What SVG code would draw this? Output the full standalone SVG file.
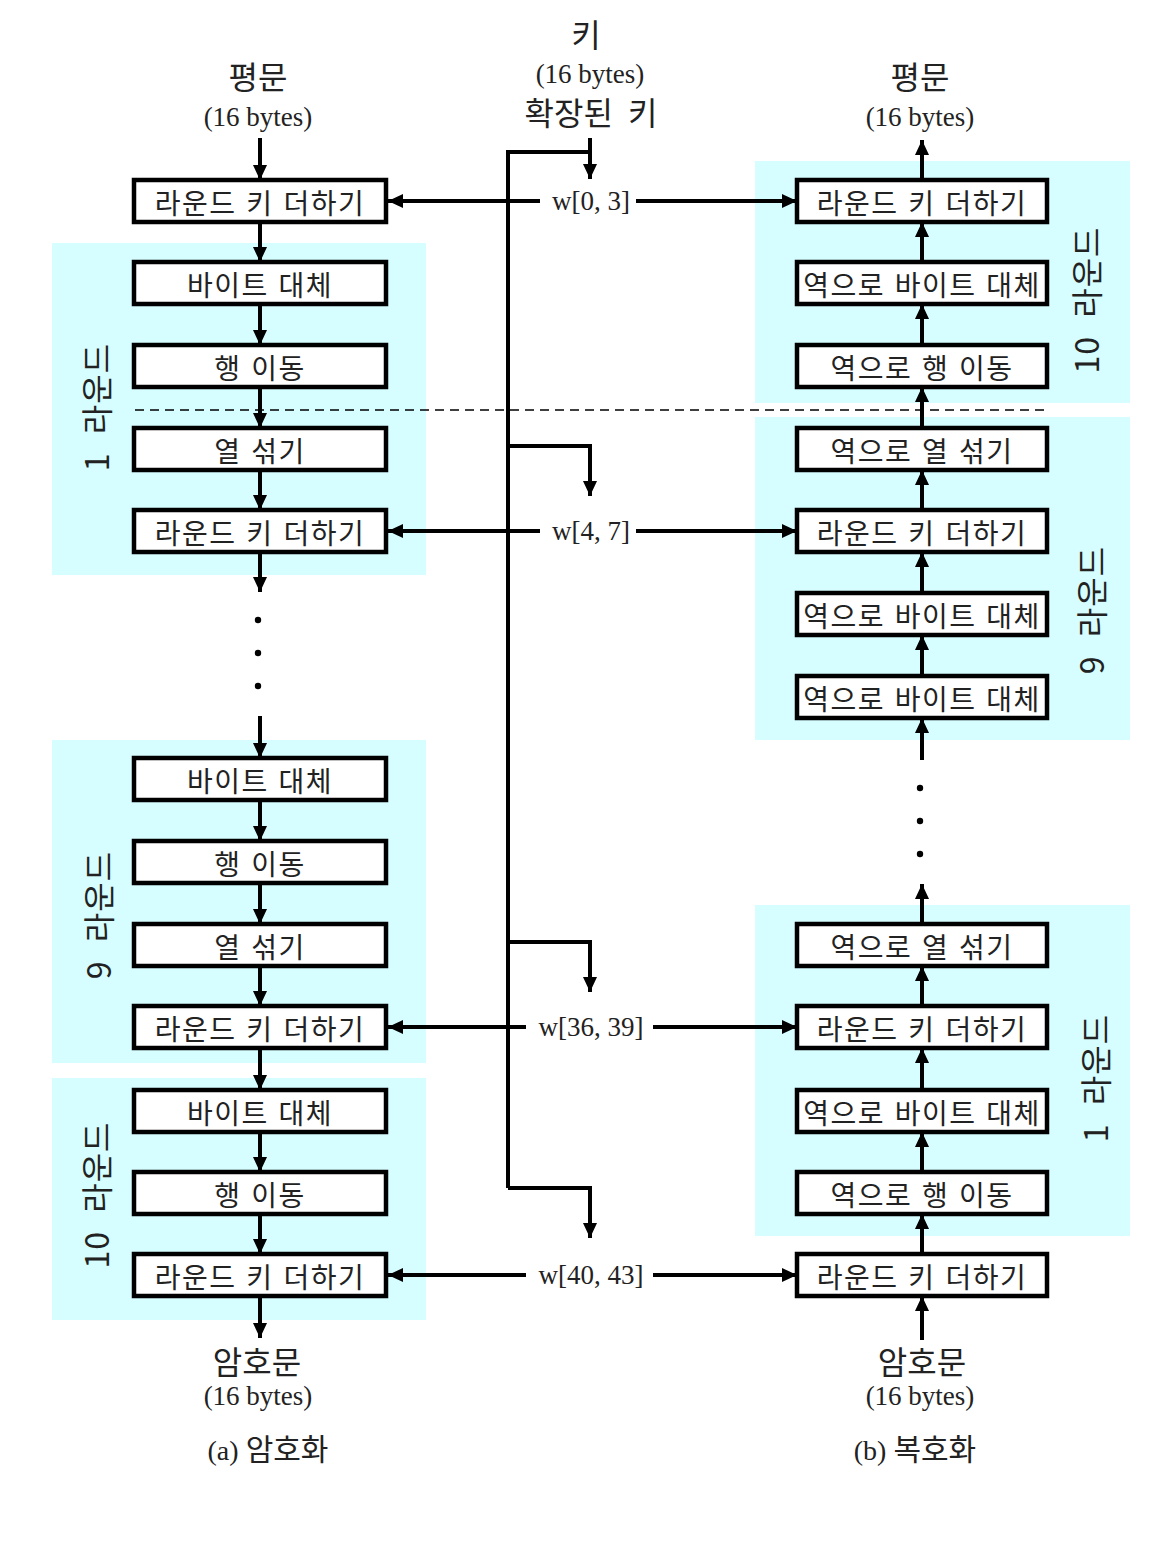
<svg xmlns="http://www.w3.org/2000/svg" width="1162" height="1546" viewBox="0 0 1162 1546">
<style>
.bg{fill:#d6fdff}
.box{fill:#fff;stroke:#000;stroke-width:4.5}
.bt{font-family:"Noto Sans CJK KR","Noto Sans",sans-serif;font-size:28px;fill:#222;text-anchor:middle;letter-spacing:1.5px;word-spacing:2px;dominant-baseline:central}
.ln{stroke:#000;stroke-width:4;fill:none}
.ar{stroke:#000;stroke-width:4;fill:none;marker-end:url(#ah)}
.kr{font-family:"Noto Sans CJK KR","Noto Sans",sans-serif;font-size:32px;fill:#222;text-anchor:middle;word-spacing:8px}
.tm{font-family:"Liberation Serif",serif;font-size:27px;fill:#222;text-anchor:middle}
.rl{font-family:"Noto Sans CJK KR","Noto Sans",sans-serif;font-size:32px;fill:#222;text-anchor:middle;letter-spacing:1px;word-spacing:10px}
.dash{stroke:#000;stroke-width:1.5;stroke-dasharray:9 6;fill:none}
</style>
<defs>
<marker id="ah" markerUnits="userSpaceOnUse" markerWidth="16" markerHeight="16" refX="15" refY="8" orient="auto">
<path d="M0,1 L15,8 L0,15 z" fill="#000"/>
</marker>
</defs>
<rect width="1162" height="1546" fill="#fff"/>
<g id="rounds">
<rect class="bg" x="52" y="243" width="374" height="332"/>
<rect class="bg" x="52" y="740" width="374" height="323"/>
<rect class="bg" x="52" y="1078" width="374" height="242"/>
<rect class="bg" x="755" y="161" width="375" height="242"/>
<rect class="bg" x="755" y="417" width="375" height="323"/>
<rect class="bg" x="755" y="905" width="375" height="331"/>
<text class="rl" transform="translate(109,407) rotate(-90)">1 라운드</text>
<text class="rl" transform="translate(111,915) rotate(-90)">9 라운드</text>
<text class="rl" transform="translate(109,1195) rotate(-90)">10 라운드</text>
<text class="rl" transform="translate(1099,300) rotate(-90)">10 라운드</text>
<text class="rl" transform="translate(1104,610) rotate(-90)">9 라운드</text>
<text class="rl" transform="translate(1108,1078) rotate(-90)">1 라운드</text>
</g>
<line class="dash" x1="135" y1="410" x2="1046" y2="410"/>
<g id="labels">
<text class="kr" x="258" y="89">평문</text>
<text class="tm" x="258" y="126">(16 bytes)</text>
<text class="kr" x="586" y="47">키</text>
<text class="tm" x="590" y="83">(16 bytes)</text>
<text class="kr" x="591" y="125">확장된 키</text>
<text class="kr" x="920" y="89">평문</text>
<text class="tm" x="920" y="126">(16 bytes)</text>
<text class="kr" x="257" y="1374" font-size="34">암호문</text>
<text class="tm" x="258" y="1405">(16 bytes)</text>
<text class="kr" x="922" y="1374" font-size="34">암호문</text>
<text class="tm" x="920" y="1405">(16 bytes)</text>
<text x="268" y="1460" text-anchor="middle" fill="#222"><tspan font-family="Liberation Serif, serif" font-size="28">(a) </tspan><tspan font-family="Noto Sans CJK KR, sans-serif" font-size="30">암호화</tspan></text>
<text x="915" y="1460" text-anchor="middle" fill="#222"><tspan font-family="Liberation Serif, serif" font-size="28">(b) </tspan><tspan font-family="Noto Sans CJK KR, sans-serif" font-size="30">복호화</tspan></text>
<text class="tm" x="591" y="210">w[0, 3]</text>
<text class="tm" x="591" y="540">w[4, 7]</text>
<text class="tm" x="591" y="1036">w[36, 39]</text>
<text class="tm" x="591" y="1284">w[40, 43]</text>
</g>
<g id="connectors">
<line class="ar" x1="260" y1="138" x2="260" y2="180"/>
<line class="ar" x1="260" y1="222" x2="260" y2="262"/>
<line class="ar" x1="260" y1="304" x2="260" y2="345"/>
<line class="ar" x1="260" y1="387" x2="260" y2="428"/>
<line class="ar" x1="260" y1="470" x2="260" y2="510"/>
<line class="ar" x1="260" y1="552" x2="260" y2="592"/>
<circle cx="258" cy="620" r="3.2"/>
<circle cx="258" cy="653" r="3.2"/>
<circle cx="258" cy="686" r="3.2"/>
<line class="ar" x1="260" y1="716" x2="260" y2="758"/>
<line class="ar" x1="260" y1="800" x2="260" y2="841"/>
<line class="ar" x1="260" y1="883" x2="260" y2="924"/>
<line class="ar" x1="260" y1="966" x2="260" y2="1006"/>
<line class="ar" x1="260" y1="1048" x2="260" y2="1090"/>
<line class="ar" x1="260" y1="1132" x2="260" y2="1172"/>
<line class="ar" x1="260" y1="1214" x2="260" y2="1254"/>
<line class="ar" x1="260" y1="1296" x2="260" y2="1338"/>

<line class="ar" x1="922" y1="1340" x2="922" y2="1296"/>
<line class="ar" x1="922" y1="1254" x2="922" y2="1214"/>
<line class="ar" x1="922" y1="1172" x2="922" y2="1132"/>
<line class="ar" x1="922" y1="1090" x2="922" y2="1048"/>
<line class="ar" x1="922" y1="1006" x2="922" y2="966"/>
<line class="ar" x1="922" y1="924" x2="922" y2="884"/>
<circle cx="920" cy="788" r="3.2"/>
<circle cx="920" cy="821" r="3.2"/>
<circle cx="920" cy="854" r="3.2"/>
<line class="ar" x1="922" y1="760" x2="922" y2="718"/>
<line class="ar" x1="922" y1="676" x2="922" y2="635"/>
<line class="ar" x1="922" y1="593" x2="922" y2="552"/>
<line class="ar" x1="922" y1="510" x2="922" y2="470"/>
<line class="ar" x1="922" y1="428" x2="922" y2="387"/>
<line class="ar" x1="922" y1="345" x2="922" y2="304"/>
<line class="ar" x1="922" y1="262" x2="922" y2="222"/>
<line class="ar" x1="922" y1="180" x2="922" y2="140"/>

<line class="ar" x1="540" y1="201" x2="388" y2="201"/>
<line class="ar" x1="636" y1="201" x2="797" y2="201"/>
<line class="ar" x1="540" y1="531" x2="388" y2="531"/>
<line class="ar" x1="636" y1="531" x2="797" y2="531"/>
<line class="ar" x1="526" y1="1027" x2="388" y2="1027"/>
<line class="ar" x1="653" y1="1027" x2="797" y2="1027"/>
<line class="ar" x1="526" y1="1275" x2="388" y2="1275"/>
<line class="ar" x1="653" y1="1275" x2="797" y2="1275"/>

<line class="ar" x1="590" y1="138" x2="590" y2="179"/>
<polyline class="ln" points="590,152 508,152 508,1188"/>
<polyline class="ar" points="508,446 590,446 590,496"/>
<polyline class="ar" points="508,942 590,942 590,992"/>
<polyline class="ar" points="508,1188 590,1188 590,1238"/>
</g>
<g id="enc">
<g id="e1"><rect class="box" x="134" y="180" width="252" height="42"/><text class="bt" x="260" y="202">라운드 키 더하기</text></g>
<g id="e2"><rect class="box" x="134" y="262" width="252" height="42"/><text class="bt" x="260" y="284">바이트 대체</text></g>
<g id="e3"><rect class="box" x="134" y="345" width="252" height="42"/><text class="bt" x="260" y="367">행 이동</text></g>
<g id="e4"><rect class="box" x="134" y="428" width="252" height="42"/><text class="bt" x="260" y="450">열 섞기</text></g>
<g id="e5"><rect class="box" x="134" y="510" width="252" height="42"/><text class="bt" x="260" y="532">라운드 키 더하기</text></g>
<g id="e6"><rect class="box" x="134" y="758" width="252" height="42"/><text class="bt" x="260" y="780">바이트 대체</text></g>
<g id="e7"><rect class="box" x="134" y="841" width="252" height="42"/><text class="bt" x="260" y="863">행 이동</text></g>
<g id="e8"><rect class="box" x="134" y="924" width="252" height="42"/><text class="bt" x="260" y="946">열 섞기</text></g>
<g id="e9"><rect class="box" x="134" y="1006" width="252" height="42"/><text class="bt" x="260" y="1028">라운드 키 더하기</text></g>
<g id="e10"><rect class="box" x="134" y="1090" width="252" height="42"/><text class="bt" x="260" y="1112">바이트 대체</text></g>
<g id="e11"><rect class="box" x="134" y="1172" width="252" height="42"/><text class="bt" x="260" y="1194">행 이동</text></g>
<g id="e12"><rect class="box" x="134" y="1254" width="252" height="42"/><text class="bt" x="260" y="1276">라운드 키 더하기</text></g>
</g>
<g id="dec">
<g id="d1"><rect class="box" x="797" y="180" width="250" height="42"/><text class="bt" x="922" y="202">라운드 키 더하기</text></g>
<g id="d2"><rect class="box" x="797" y="262" width="250" height="42"/><text class="bt" x="922" y="284">역으로 바이트 대체</text></g>
<g id="d3"><rect class="box" x="797" y="345" width="250" height="42"/><text class="bt" x="922" y="367">역으로 행 이동</text></g>
<g id="d4"><rect class="box" x="797" y="428" width="250" height="42"/><text class="bt" x="922" y="450">역으로 열 섞기</text></g>
<g id="d5"><rect class="box" x="797" y="510" width="250" height="42"/><text class="bt" x="922" y="532">라운드 키 더하기</text></g>
<g id="d6"><rect class="box" x="797" y="593" width="250" height="42"/><text class="bt" x="922" y="615">역으로 바이트 대체</text></g>
<g id="d7"><rect class="box" x="797" y="676" width="250" height="42"/><text class="bt" x="922" y="698">역으로 바이트 대체</text></g>
<g id="d8"><rect class="box" x="797" y="924" width="250" height="42"/><text class="bt" x="922" y="946">역으로 열 섞기</text></g>
<g id="d9"><rect class="box" x="797" y="1006" width="250" height="42"/><text class="bt" x="922" y="1028">라운드 키 더하기</text></g>
<g id="d10"><rect class="box" x="797" y="1090" width="250" height="42"/><text class="bt" x="922" y="1112">역으로 바이트 대체</text></g>
<g id="d11"><rect class="box" x="797" y="1172" width="250" height="42"/><text class="bt" x="922" y="1194">역으로 행 이동</text></g>
<g id="d12"><rect class="box" x="797" y="1254" width="250" height="42"/><text class="bt" x="922" y="1276">라운드 키 더하기</text></g>
</g>
</svg>
